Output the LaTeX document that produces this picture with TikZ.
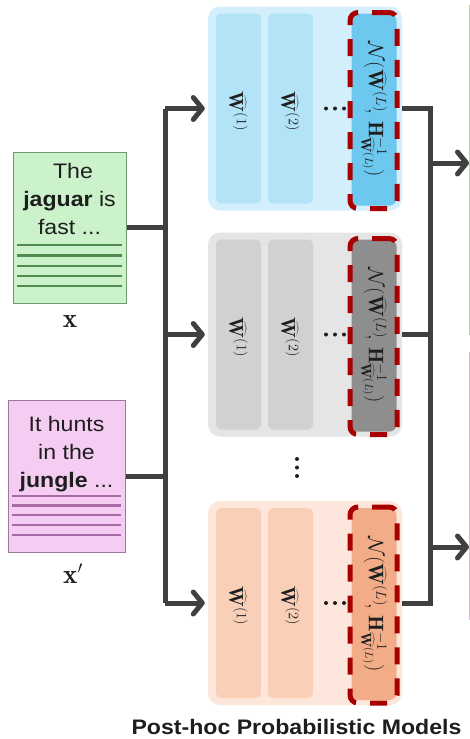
\documentclass[tikz,border=0pt]{standalone}
\usepackage{fontspec}
\usetikzlibrary{arrows.meta}
\newfontfamily\docsans{Liberation Sans}

\definecolor{linkgray}{HTML}{404040}
\definecolor{dashred}{HTML}{A80000}
\definecolor{textdark}{HTML}{1E1E1E}
\definecolor{bluebg}{HTML}{D3EFFB}
\definecolor{bluecol}{HTML}{B3E3F7}
\definecolor{blueL}{HTML}{6CC8EF}
\definecolor{graybg}{HTML}{E5E5E5}
\definecolor{graycol}{HTML}{D1D1D1}
\definecolor{grayL}{HTML}{8E8E8E}
\definecolor{orbg}{HTML}{FDE6DB}
\definecolor{orcol}{HTML}{F9CFB8}
\definecolor{orL}{HTML}{F3AC88}
\definecolor{greenfill}{HTML}{CCF2CC}
\definecolor{greenedge}{HTML}{6E9A6E}
\definecolor{greenline}{HTML}{4F8A4F}
\definecolor{pinkfill}{HTML}{F5CDF3}
\definecolor{pinkedge}{HTML}{9A7A9A}
\definecolor{pinkline}{HTML}{A86AA6}

% one model block: name, centre y, background, column fill, last-layer fill
\newcommand\modelpanel[5]{%
  \node[panel, fill=#3] (#1) at (305,#2) {};
  \node[wcol, fill=#4] (#1a) at (238.5,#2) {};
  \node[wcol, fill=#4] (#1b) at (290.5,#2) {};
  \node[lcol, fill=#5] (#1L) at (374,#2+1) {};
  \node[redbox] (#1R) at (373.5,#2+2) {};
  \node[wlabel] (#1ta) at (238.5,#2+3) {$\widehat{\mathbf{W}}^{(1)}$};
  \node[wlabel] (#1tb) at (290.5,#2+3) {$\widehat{\mathbf{W}}^{(2)}$};
  % horizontal ellipsis before the last layer
  \node[vdot] (#1d1) at (326,#2) {};
  \node[vdot] (#1d2) at (335,#2) {};
  \node[vdot] (#1d3) at (344,#2) {};
  \node[nlabel] (#1tL) at (374,#2+1) {$\mathcal{N}\bigl(\widehat{\mathbf{W}}^{(L)}\!,\,\mathbf{H}^{-1}_{\widehat{\mathbf{W}}^{(L)}}\bigr)$};
}

\begin{document}
\begin{tikzpicture}[x=1pt,y=-1pt,
  conn/.style={draw=linkgray, line width=5pt},
  arr/.style={conn, -{Straight Barb[round,length=9pt,width=22pt]}},
  panel/.style={rounded corners=12pt, minimum width=194pt, minimum height=204pt, inner sep=0pt},
  wcol/.style={rounded corners=5pt, minimum width=45pt, minimum height=190pt, inner sep=0pt},
  lcol/.style={rounded corners=7pt, minimum width=45pt, minimum height=192pt, inner sep=0pt},
  redbox/.style={draw=dashred, line width=5pt, dash pattern=on 17pt off 14pt,
    rounded corners=8pt, minimum width=47pt, minimum height=196pt, inner sep=0pt},
  wlabel/.style={rotate=-90, text=textdark, font=\fontsize{20}{22}\selectfont, inner sep=0pt},
  nlabel/.style={rotate=-90, text=textdark, font=\fontsize{21}{23}\selectfont, inner sep=0pt},
  vdot/.style={fill=textdark, circle, inner sep=0pt, minimum size=4pt},
  doc/.style={line width=1pt, inner sep=0pt},
  doctext/.style={font=\docsans\fontsize{21}{24}\selectfont, text=textdark, anchor=base, xscale=1.1, inner sep=0pt},
  mathlabel/.style={font=\fontsize{27}{30}\selectfont, text=textdark, anchor=base, inner sep=0pt},
]
\useasboundingbox (0,0) rectangle (470,739);
\fill[white] (0,0) rectangle (470,739);

% edges of the neighbouring blocks, cut off at the right border
\draw[greenedge!45, line width=1pt] (469.5,5) -- (469.5,335);
\draw[pinkedge!45, line width=1pt] (469.5,352) -- (469.5,620);

% input documents
\node[doc, draw=greenedge, fill=greenfill, minimum width=113pt, minimum height=151pt] (docx) at (69.5,227.5) {};
\node[doctext] (docx1) at (73,178) {The};
\node[doctext] (docx2) at (69.5,206) {\textbf{jaguar} is};
\node[doctext] (docx3) at (69.5,234) {fast ...};
\foreach \yy in {245,255.5,266,276,286}
  \draw[greenline, line width=2.2pt] (17,\yy) -- (122,\yy);
\node[mathlabel] (lx) at (70,327) {$\mathbf{x}$};

\node[doc, draw=pinkedge, fill=pinkfill, minimum width=117pt, minimum height=152pt] (docxp) at (66.5,476) {};
\node[doctext] (docxp1) at (66.5,431) {It hunts};
\node[doctext] (docxp2) at (66.5,459) {in the};
\node[doctext] (docxp3) at (66.5,487) {\textbf{jungle} ...};
\foreach \yy in {496,505.5,515,525,535}
  \draw[pinkline, line width=2.2pt] (12,\yy) -- (121,\yy);
\node[mathlabel] (lxp) at (73,583) {$\mathbf{x}'$};

% model blocks
\modelpanel{pb}{108.5}{bluebg}{bluecol}{blueL}
\modelpanel{pg}{334.5}{graybg}{graycol}{grayL}
\modelpanel{po}{603}{orbg}{orcol}{orL}
% vertical ellipsis between the gray and orange blocks
\node[vdot] (vd1) at (297,459) {};
\node[vdot] (vd2) at (297,467.5) {};
\node[vdot] (vd3) at (297,476) {};

% left bus: both inputs feed every block
\coordinate (lbus) at (165,0);
\draw[conn] (docx.east) -- (docx.east -| lbus);
\draw[conn] (docxp.east) -- (docxp.east -| lbus);
\draw[conn] (lbus |- pb.west) -- (lbus |- po.west);
\draw[arr, shorten >=3pt] (lbus |- pb.west) -- (pb.west);
\draw[arr, shorten >=3pt] (lbus |- pg.west) -- (pg.west);
\draw[arr, shorten >=3pt] (lbus |- po.west) -- (po.west);

% right bus: block outputs merge and leave to the right
\coordinate (rbus) at (430,0);
\coordinate (out1) at (469,163);
\coordinate (out2) at (469,547);
\draw[conn] (pb.east) -- (rbus |- pb.east) -- (rbus |- po.east) -- (po.east);
\draw[conn] (pg.east) -- (rbus |- pg.east);
\draw[arr] (rbus |- out1) -- (out1);
\draw[arr] (rbus |- out2) -- (out2);

\node[font=\docsans\bfseries\fontsize{21}{24}\selectfont, text=textdark, anchor=base, xscale=1.1, inner sep=0pt]
  (title) at (296.5,734.5) {Post-hoc Probabilistic Models};
\end{tikzpicture}
\end{document}
